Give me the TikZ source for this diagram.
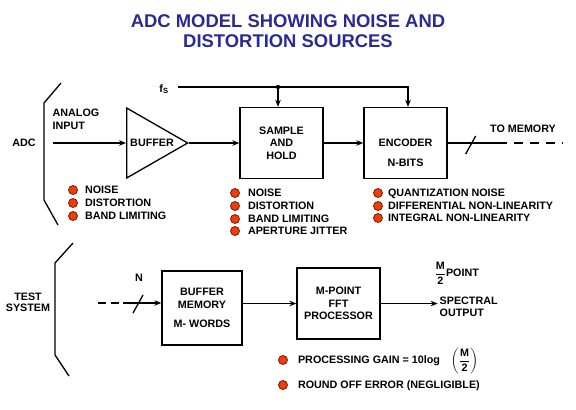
\documentclass[tikz,border=0pt]{standalone}
\usepackage{amsmath}
\usepackage{fontspec}
\setmainfont{Liberation Sans}
\usetikzlibrary{arrows.meta, positioning, shapes.geometric}
\definecolor{titleblue}{RGB}{42,42,150}
\definecolor{dotred}{RGB}{240,60,10}
\definecolor{dotrim}{RGB}{120,30,0}

\begin{document}
\begin{tikzpicture}[>={Stealth[length=7bp,width=5.5bp]}, x=1bp, y=-1bp,
                    line width=1.3bp, font=\bfseries\fontsize{10.8}{12.5}\selectfont]
\tikzstyle{blk}=[draw, rectangle, inner sep=0pt, align=center,
                    minimum width=83bp, minimum height=71bp]
\tikzstyle{amp}=[draw, isosceles triangle, isosceles triangle stretches,
                    inner sep=0pt, minimum width=70bp, minimum height=61bp]
\tikzstyle{bul}=[circle, draw=dotrim, fill=dotred, line width=0.8bp,
                    minimum size=9bp, inner sep=0pt]
\tikzstyle{lbl}=[inner sep=0pt, text height=7.6bp, text depth=0pt]
  \useasboundingbox (0,0) rectangle (576,409);
  \node[font=\bfseries\fontsize{18.5}{20}\selectfont, text=titleblue, align=center]
    (title) at (288,31) {ADC MODEL SHOWING NOISE AND\\DISTORTION SOURCES};
  %
  \draw (61,83) -- (44,103) -- (44,200) -- (58,225);
  \node (adc) at (24,143) {ADC};
  \node[anchor=west, align=left, inner sep=0pt] (ain) at (52,119.5) {ANALOG\\INPUT};
  \coordinate (inp) at (53,143);
  %
  \node[amp, anchor=lower side] (buf) at (126,143) {BUFFER};
  \node[blk] (sh) at (281.5,143) {SAMPLE\\AND\\HOLD};
  \node[blk] (enc) [right of=sh, node distance=124bp] {\rule{0pt}{26.5bp}ENCODER\\[7.5bp]N-BITS};
  %
  \node (fs) at (164,89) {f$_{\text{S}}$};
  \coordinate (clk) at (178,87);
  \coordinate (tap) at (278,87);
  \draw (clk) -- (tap);
  \draw[->] (tap) -| ([xshift=2.5bp]enc.north);
  \draw[->] (tap) -- (tap |- sh.north);
  \fill (tap) circle (2.2bp);
  %
  \path[->] (inp) edge (buf.lower side);
  \path[->] (buf.apex) edge (sh.west);
  \path[->] (sh.east) edge (enc.west);
  %
  \coordinate (sol) at ([xshift=50bp]enc.east);
  \coordinate (mem) at ([xshift=115bp]enc.east);
  \coordinate (sl) at ([xshift=23bp]enc.east);
  \draw (enc.east) -- (sol);
  \draw[dash pattern=on 9bp off 7bp] (sol) -- (mem);
  \draw ([shift={(-5,11)}]sl) -- ([shift={(5,-7)}]sl);
  \node (tomem) at (523,129) {TO MEMORY};
  %
  \node[bul, label={[lbl, label distance=6.5bp]right:NOISE}] (bn1) at (73,190) {};
  \node[bul, label={[lbl, label distance=6.5bp]right:DISTORTION}] (bn2) at (73,203) {};
  \node[bul, label={[lbl, label distance=6.5bp]right:BAND LIMITING}] (bn3) at (73,216) {};
  %
  \node[bul, label={[lbl, label distance=7.5bp]right:NOISE}] (sn1) at (235,193) {};
  \node[bul, label={[lbl, label distance=7.5bp]right:DISTORTION}] (sn2) at (235,206) {};
  \node[bul, label={[lbl, label distance=7.5bp]right:BAND LIMITING}] (sn3) at (235,219) {};
  \node[bul, label={[lbl, label distance=7.5bp]right:APERTURE JITTER}] (sn4) at (235,231) {};
  %
  \node[bul, label={[lbl, label distance=4.5bp]right:QUANTIZATION NOISE}] (en1) at (378,193) {};
  \node[bul, label={[lbl, label distance=4.5bp]right:DIFFERENTIAL NON-LINEARITY}] (en2) at (378,206) {};
  \node[bul, label={[lbl, label distance=4.5bp]right:INTEGRAL NON-LINEARITY}] (en3) at (378,218) {};
  %
  \draw (73,243) -- (55,263) -- (55,355) -- (69,376);
  \node[align=center] (test) at (28,302.5) {TEST\\[-1.5bp]SYSTEM};
  %
  \node[blk, minimum width=80bp, minimum height=74bp] (bm) at (202,308)
    {BUFFER\\MEMORY\\[7bp]M- WORDS};
  \node[blk] (fft) [right of=bm, node distance=136.5bp, yshift=4.5bp]
    {M-POINT\\FFT\\PROCESSOR};
  %
  \coordinate (nin) at (98,303);
  \coordinate (nsl) at (131,303);
  \draw[dash pattern=on 8bp off 4.5bp] (nin) -- (nsl);
  \draw[->] (nsl) -- (nsl -| bm.west);
  \draw ([shift={(-5,10)}]138,303) -- ([shift={(5,-8)}]138,303);
  \node (nb) at (139,278) {N};
  %
  \path[->] (fft.west -| bm.east) edge (fft.west);
  \coordinate (spo) at ([xshift=57bp]fft.east);
  \path[->] (fft.east) edge (spo);
  \node[anchor=west, align=left, inner sep=0pt] (spec) at (439,307) {SPECTRAL\\OUTPUT};
  \node[anchor=west, inner sep=0pt] (mpt) at (434,273)
    {$\dfrac{\text{M}}{\text{2}}$POINT};
  %
  \node[bul, label={[lbl, label distance=9.5bp]right:{PROCESSING GAIN = 10log\quad
    $\left(\dfrac{\text{M}}{\text{2}}\right)$}}] (pg) at (283,360) {};
  \node[bul, label={[lbl, label distance=9.5bp]right:{ROUND OFF ERROR (NEGLIGIBLE)}}]
    (ro) at (283,385) {};
\end{tikzpicture}
\end{document}
